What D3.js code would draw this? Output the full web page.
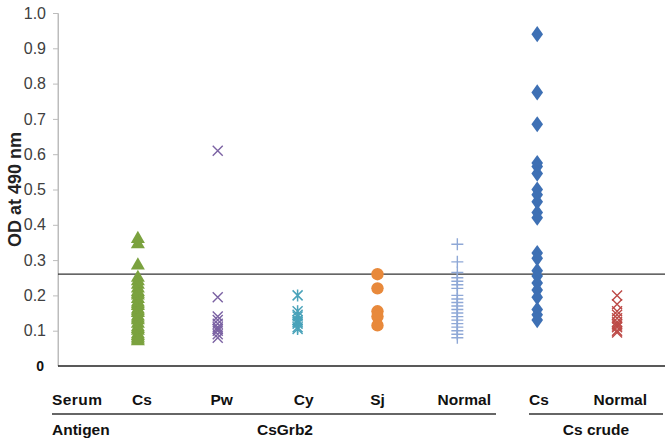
<!DOCTYPE html>
<html><head><meta charset="utf-8">
<script src="https://cdn.jsdelivr.net/npm/d3@7"></script>
<style>body{margin:0;background:#fff}svg{display:block}text{font-family:"Liberation Sans",Arial,sans-serif}</style>
</head><body><svg id="c" width="672" height="440"></svg>
<script>
const categories = ["Cs", "Pw", "Cy", "Sj", "Normal", "Cs", "Normal"];
const groups = ["CsGrb2", "Cs crude"];
const yTicks = [0.1, 0.2, 0.3, 0.4, 0.5, 0.6, 0.7, 0.8, 0.9, 1.0];
const cutoff = 0.26;
const csGrb2_Cs = [0.36,0.345,0.285,0.25,0.24,0.23,0.22,0.21,0.205,0.2,0.19,0.18,0.175,0.17,0.16,0.155,0.15,0.14,0.135,0.13,0.12,0.11,0.105,0.1,0.09,0.085,0.08,0.075,0.07];
const csGrb2_Pw = [0.61,0.195,0.14,0.13,0.12,0.11,0.105,0.1,0.09,0.08];
const csGrb2_Cy = [0.2,0.155,0.145,0.14,0.13,0.125,0.12,0.11,0.105];
const csGrb2_Sj = [0.26,0.22,0.155,0.14,0.115];
const csGrb2_Normal = [0.345,0.295,0.265,0.25,0.24,0.23,0.22,0.2,0.19,0.18,0.17,0.16,0.15,0.14,0.13,0.12,0.11,0.1,0.09,0.08];
const crude_Cs = [0.94,0.775,0.685,0.575,0.565,0.545,0.5,0.485,0.465,0.435,0.42,0.32,0.305,0.27,0.255,0.235,0.215,0.195,0.16,0.145,0.13];
const crude_Normal = [0.2,0.175,0.155,0.145,0.135,0.125,0.12,0.115,0.11,0.1,0.095];

const seriesList = [
  {vals: csGrb2_Cs, color: "#7ba23f", shape: "tri"},
  {vals: csGrb2_Pw, color: "#7b62a3", shape: "x"},
  {vals: csGrb2_Cy, color: "#4aa3ba", shape: "star"},
  {vals: csGrb2_Sj, color: "#e8893b", shape: "circle"},
  {vals: csGrb2_Normal, color: "#8fa8d6", shape: "plus"},
  {vals: crude_Cs, color: "#3e70b4", shape: "diamond"},
  {vals: crude_Normal, color: "#bd4a47", shape: "x"}
];

const svg = d3.select("#c");
const x = d3.scaleLinear().domain([0, 7.6]).range([58, 665]);
const y = d3.scaleLinear().domain([0, 1]).range([366, 13]);

// y axis
const yAxis = svg.append("g").attr("transform","translate(58,0)")
  .call(d3.axisLeft(y).tickValues(yTicks).tickFormat(d3.format(".1f")).tickSize(5).tickSizeOuter(0));
yAxis.select(".domain").attr("stroke","#bcbcbc");
yAxis.selectAll(".tick line").attr("stroke","#bcbcbc");
yAxis.selectAll(".tick text").attr("fill","#404040").attr("font-size","16px").attr("x",-12)
  .style("font-family","'Liberation Sans',Arial,sans-serif");
svg.append("line").attr("x1",58).attr("x2",58).attr("y1",y(1)).attr("y2",y(0)).attr("stroke","#bcbcbc");
svg.append("text").attr("x",44).attr("y",y(0)+5).attr("text-anchor","end")
  .attr("font-size","14px").attr("font-weight","bold").attr("fill","#111").text("0");

// title
svg.append("text").attr("transform",`translate(21,${y(0.5)}) rotate(-90)`).attr("text-anchor","middle")
  .attr("font-size","18px").attr("font-weight","bold").attr("fill","#222").text("OD at 490 nm");

// baseline & cutoff
svg.append("line").attr("x1",58).attr("x2",665).attr("y1",y(0)).attr("y2",y(0)).attr("stroke","#222").attr("stroke-width",1.6);
svg.append("line").attr("x1",58).attr("x2",665).attr("y1",y(cutoff)).attr("y2",y(cutoff)).attr("stroke","#333").attr("stroke-width",1.3);

// markers
const g = svg.append("g");
seriesList.forEach((s, i) => {
  const cx = x(i + 1);
  s.vals.forEach(v => {
    const cy = y(v);
    if (s.shape === "tri") {
      g.append("path").attr("d", d3.symbol(d3.symbolTriangle, 85)()).attr("transform",`translate(${cx},${cy})`).attr("fill", s.color);
    } else if (s.shape === "circle") {
      g.append("circle").attr("cx",cx).attr("cy",cy).attr("r",6.2).attr("fill",s.color);
    } else if (s.shape === "diamond") {
      g.append("path").attr("d", d3.symbol(d3.symbolDiamond, 75)()).attr("transform",`translate(${cx},${cy}) scale(1.25,1)`).attr("fill", s.color);
    } else if (s.shape === "x") {
      const r = 5;
      g.append("path").attr("d",`M${cx-r},${cy-r}L${cx+r},${cy+r}M${cx-r},${cy+r}L${cx+r},${cy-r}`).attr("stroke",s.color).attr("stroke-width",1.4).attr("fill","none");
    } else if (s.shape === "star") {
      const r = 5;
      g.append("path").attr("d",`M${cx-r},${cy-r}L${cx+r},${cy+r}M${cx-r},${cy+r}L${cx+r},${cy-r}M${cx},${cy-r-1}L${cx},${cy+r+1}`).attr("stroke",s.color).attr("stroke-width",1.5).attr("fill","none");
    } else if (s.shape === "plus") {
      const r = 6;
      g.append("path").attr("d",`M${cx-r},${cy}L${cx+r},${cy}M${cx},${cy-r}L${cx},${cy+r}`).attr("stroke",s.color).attr("stroke-width",1.4).attr("fill","none");
    }
  });
});

// bottom table labels
const lab = svg.append("g").attr("font-size","15.5px").attr("font-weight","bold").attr("fill","#111")
  .attr("transform","translate(0,0)");
lab.append("text").attr("x",52).attr("y",405).attr("textLength",50).text("Serum");
const dxs = [4, 4, 6, 0, 0, 0, 0];
const anchors = ["middle","middle","middle","middle","end","middle","end"];
categories.forEach((c, i) => {
  let px = x(i + 1) + dxs[i];
  if (i === 4) px = 491;
  if (i === 6) px = 647;
  if (i === 5) px = 539;
  lab.append("text").attr("x",px).attr("y",405).attr("text-anchor",anchors[i]).text(c);
});
svg.append("line").attr("x1",52).attr("x2",496).attr("y1",414).attr("y2",414).attr("stroke","#333").attr("stroke-width",1.3);
svg.append("line").attr("x1",529).attr("x2",663).attr("y1",414).attr("y2",414).attr("stroke","#333").attr("stroke-width",1.3);
lab.append("text").attr("x",52).attr("y",435).text("Antigen");
lab.append("text").attr("x",285).attr("y",435).attr("text-anchor","middle").text(groups[0]);
lab.append("text").attr("x",596).attr("y",435).attr("text-anchor","middle").text(groups[1]);
</script></body></html>
